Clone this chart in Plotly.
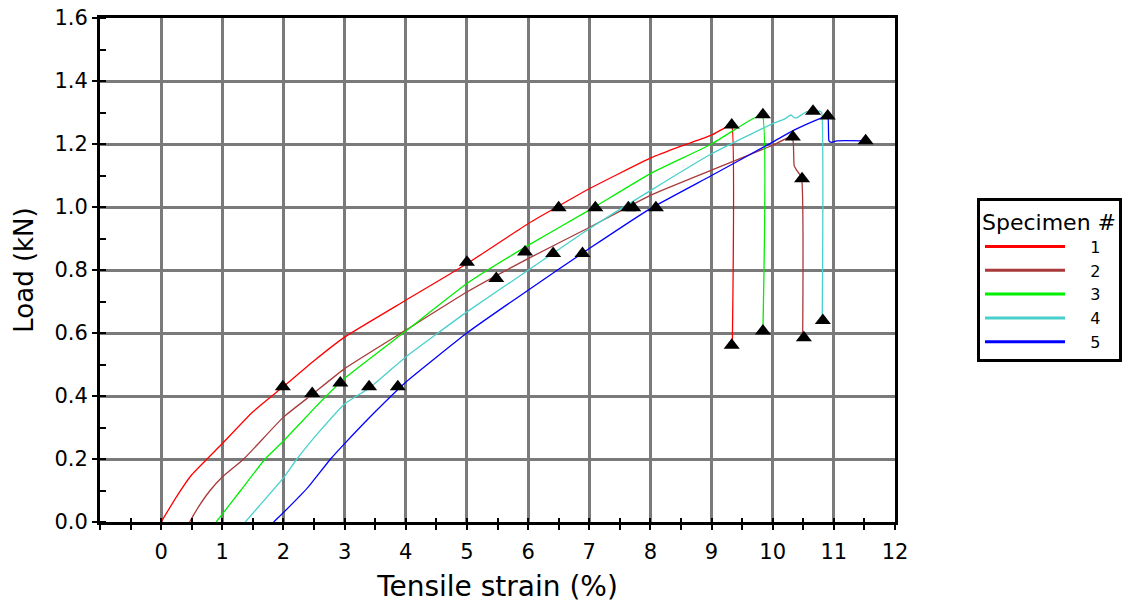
import plotly.graph_objects as go

# ---- data ----
specimens = ["1", "2", "3", "4", "5"]
colors = ["#ff0000", "#a83a3a", "#00ee00", "#48d1cc", "#0000ff"]

red_x = [0, 0.25, 0.5, 1.0, 1.5, 2.0, 2.5, 3.0, 4.0, 5.0, 6.0, 7.0, 8.0, 8.5, 9.0, 9.27, 9.33, 9.34]
red_y = [0, 0.08, 0.15, 0.249, 0.35, 0.43, 0.512, 0.587, 0.704, 0.82, 0.947, 1.058, 1.155, 1.193, 1.228, 1.257, 1.258, 0.56]

brown_x = [0.465, 0.6, 0.8, 1.0, 1.35, 2.0, 2.47, 3.0, 4.0, 5.0, 6.0, 7.0, 8.0, 9.0, 10.0, 10.25, 10.33, 10.35, 10.39, 10.47, 10.49]
brown_y = [0, 0.045, 0.10, 0.143, 0.20, 0.333, 0.405, 0.487, 0.609, 0.73, 0.836, 0.935, 1.037, 1.117, 1.196, 1.219, 1.212, 1.132, 1.117, 1.095, 0.58]

green_x = [0.9, 1.0, 1.3, 1.7, 2.0, 2.5, 3.0, 4.0, 5.0, 6.0, 7.0, 8.0, 9.0, 9.68, 9.83, 9.84]
green_y = [0, 0.025, 0.10, 0.20, 0.257, 0.36, 0.456, 0.606, 0.757, 0.878, 0.99, 1.106, 1.2, 1.281, 1.29, 0.605]

cyan_x = [1.375, 1.6, 2.0, 2.22, 2.6, 3.0, 3.4, 4.0, 5.0, 6.0, 7.0, 8.0, 9.0, 10.0, 10.2, 10.3, 10.35, 10.4, 10.55, 10.77, 10.80, 10.81]
cyan_y = [0, 0.05, 0.14, 0.20, 0.29, 0.375, 0.425, 0.524, 0.667, 0.799, 0.931, 1.052, 1.169, 1.265, 1.28, 1.292, 1.284, 1.284, 1.302, 1.304, 1.30, 0.64]

blue_x = [1.84, 2.0, 2.4, 2.77, 3.0, 3.5, 4.0, 5.0, 6.0, 7.0, 8.0, 9.0, 10.0, 10.34, 10.8, 10.9, 10.92, 10.96, 11.05, 11.51]
blue_y = [0, 0.03, 0.11, 0.2, 0.249, 0.35, 0.444, 0.60, 0.736, 0.868, 0.995, 1.10, 1.206, 1.243, 1.283, 1.29, 1.21, 1.205, 1.21, 1.21]

# triangle markers per specimen
red_mx = [1.99, 5.0, 6.5, 9.33, 9.33]
red_my = [0.429, 0.825, 0.998, 1.26, 0.561]
brown_mx = [2.47, 5.48, 7.72, 10.33, 10.48, 10.51]
brown_my = [0.408, 0.773, 0.998, 1.222, 1.09, 0.585]
green_mx = [2.93, 5.95, 7.10, 9.84, 9.84]
green_my = [0.441, 0.857, 0.998, 1.293, 0.606]
cyan_mx = [3.40, 6.41, 7.64, 10.66, 10.82]
cyan_my = [0.429, 0.852, 0.998, 1.304, 0.64]
blue_mx = [3.87, 6.89, 8.09, 10.90, 11.52]
blue_my = [0.429, 0.852, 0.998, 1.289, 1.21]

x_ticks = list(range(0, 13))
y_ticks = [0.0, 0.2, 0.4, 0.6, 0.8, 1.0, 1.2, 1.4, 1.6]

curves = [(red_x, red_y), (brown_x, brown_y), (green_x, green_y), (cyan_x, cyan_y), (blue_x, blue_y)]
marks = [(red_mx, red_my), (brown_mx, brown_my), (green_mx, green_my), (cyan_mx, cyan_my), (blue_mx, blue_my)]

FONT = "DejaVu Sans"
fig = go.Figure()

for (cx, cy), col in zip(curves, colors):
    fig.add_trace(go.Scatter(x=cx, y=cy, mode="lines", line=dict(color=col, width=1.3, shape="spline", smoothing=0.4),
                             showlegend=False, hoverinfo="skip"))

for (mx, my) in marks:
    fig.add_trace(go.Scatter(x=mx, y=my, mode="markers",
                             marker=dict(symbol="triangle-up", size=14, color="black"),
                             showlegend=False, hoverinfo="skip"))

# legend-only entries
for name, col in zip(specimens, colors):
    fig.add_trace(go.Scatter(x=[None], y=[None], mode="lines", name="    " + name,
                             line=dict(color=col, width=3)))

# dummy trace on overlay axis for inside ticks
fig.add_trace(go.Scatter(x=[None], y=[None], xaxis="x2", showlegend=False, hoverinfo="skip"))

half_ticks = [v / 2 for v in range(-2, 25)]

# body margin is removed by post_script, so the figure fills the window
W, H = 1126, 605
L, R, T, B = 100, 231, 18, 83
fig.update_layout(
    width=W, height=H,
    margin=dict(l=L, r=R, t=T, b=B, autoexpand=False),
    paper_bgcolor="white", plot_bgcolor="white",
    font=dict(family=FONT, size=21, color="black"),
    xaxis=dict(
        range=[-1, 12], tickmode="array", tickvals=x_ticks,
        ticktext=[str(v) for v in x_ticks], automargin=False,
        showgrid=True, gridcolor="#7a7a7a", gridwidth=3,
        zeroline=False, showline=True, linecolor="black", linewidth=3, mirror=True,
        ticks="outside", ticklen=5, tickwidth=2, tickcolor="black",
        ticklabelstandoff=4, ticklabeloverflow="allow",
        minor=dict(tickvals=half_ticks, ticks="outside", ticklen=5, tickwidth=2, tickcolor="black", showgrid=False),
        title=dict(text="Tensile strain (%)", font=dict(size=28), standoff=14),
        tickfont=dict(size=21),
    ),
    xaxis2=dict(
        range=[-1, 12], overlaying="x", anchor="y", side="bottom", automargin=False,
        tickmode="array", tickvals=half_ticks, ticks="inside", ticklen=4, tickwidth=2, tickcolor="black",
        showticklabels=False, showgrid=False, zeroline=False, showline=False,
    ),
    yaxis=dict(
        range=[0, 1.6], tickmode="array", tickvals=y_ticks, automargin=False,
        ticktext=["%.1f" % v for v in y_ticks], ticklabeloverflow="allow",
        showgrid=True, gridcolor="#7a7a7a", gridwidth=3,
        zeroline=False, showline=True, linecolor="black", linewidth=3, mirror=True,
        ticks="outside", ticklen=5, tickwidth=2, tickcolor="black",
        minor=dict(dtick=0.1, tick0=0, ticks="inside", ticklen=6, tickwidth=2, tickcolor="black", showgrid=False),
        title=dict(text="Load (kN)", font=dict(size=26), standoff=14),
        tickfont=dict(size=21),
    ),
    legend=dict(
        title=dict(text="Specimen #", font=dict(size=22)),
        x=(977 - L) / (W - L - R), xanchor="left",
        y=(H - B - 198) / (H - T - B), yanchor="top",
        bordercolor="black", borderwidth=3, bgcolor="white",
        font=dict(size=16), itemwidth=80, tracegroupgap=0,
    ),
)

fig.write_html("out.html",
               config={"displayModeBar": False},
               post_script="document.body.style.margin='0px';document.body.style.overflow='hidden';")
